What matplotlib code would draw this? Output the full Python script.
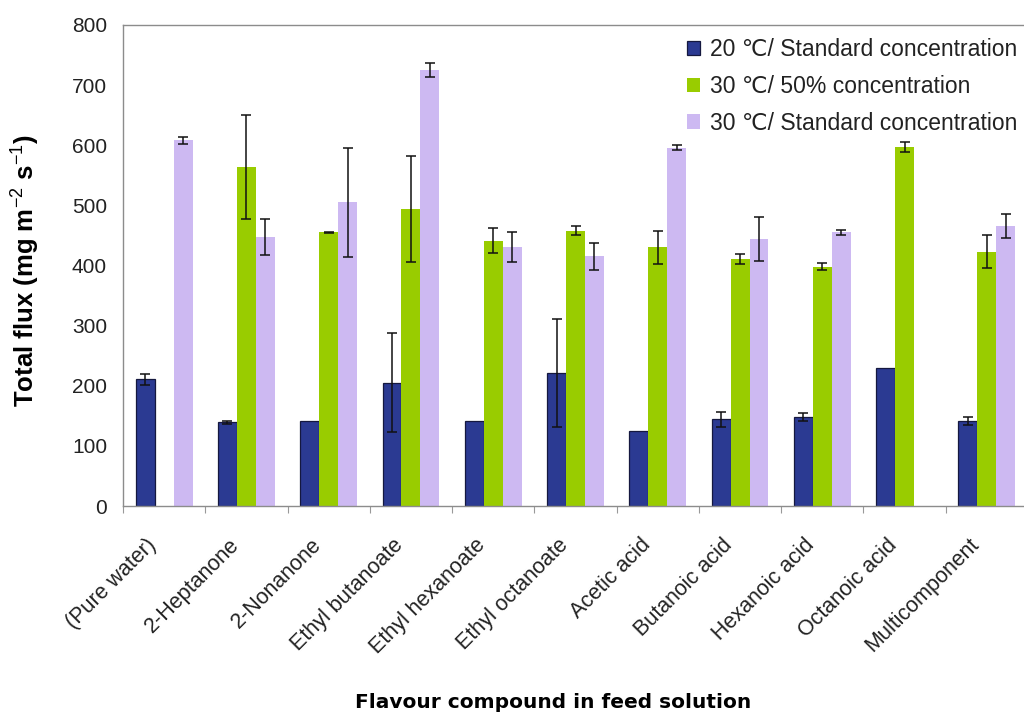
import numpy as np
import matplotlib
matplotlib.use("Agg")
import matplotlib.pyplot as plt
from matplotlib.ticker import FixedLocator
from matplotlib.transforms import ScaledTranslation

plt.rcParams['font.family'] = ['Liberation Sans', 'DejaVu Sans']
plt.rcParams['mathtext.fontset'] = 'custom'
plt.rcParams['mathtext.rm'] = 'Liberation Sans'
plt.rcParams['mathtext.bf'] = 'Liberation Sans:bold'

compounds = ["(Pure water)", "2-Heptanone", "2-Nonanone", "Ethyl butanoate",
             "Ethyl hexanoate", "Ethyl octanoate", "Acetic acid", "Butanoic acid",
             "Hexanoic acid", "Octanoic acid", "Multicomponent"]

series_labels = ["20 \u2103/ Standard concentration",
                 "30 \u2103/ 50% concentration",
                 "30 \u2103/ Standard concentration"]

flux_20_std = [211, 139, 141, 205, 142, 221, 124, 144, 148, 230, 141]
err_20_std = [9, 2, 0, 82, 0, 90, 0, 13, 6, 0, 7]

flux_30_half = [0, 564, 455, 494, 441, 458, 430, 411, 398, 597, 423]
err_30_half = [0, 87, 1, 88, 21, 7, 27, 8, 6, 8, 27]

flux_30_std = [608, 447, 505, 725, 430, 415, 596, 444, 455, 0, 466]
err_30_std = [6, 30, 91, 11, 25, 22, 4, 37, 4, 0, 20]

colors = ["#2B3A92", "#99CC00", "#CDB9F2"]

fig = plt.figure(figsize=(10.24, 7.15), dpi=100)
ax = fig.add_axes([123 / 1024, 1 - 506 / 715, 905 / 1024, 481 / 715])

x = np.arange(len(compounds))
width = 0.23
offsets = [-width, 0.0, width]
values = [flux_20_std, flux_30_half, flux_30_std]
errors = [err_20_std, err_30_half, err_30_std]

for i, (vals, errs) in enumerate(zip(values, errors)):
    edge = "#15183F" if i == 0 else "none"
    ax.bar(x + offsets[i], vals, width, color=colors[i], edgecolor=edge,
           linewidth=0.9 if i == 0 else 0, label=series_labels[i], zorder=2)
    xs = [xi + offsets[i] for xi, v, e in zip(x, vals, errs) if e > 0]
    ys = [v for v, e in zip(vals, errs) if e > 0]
    es = [e for e in errs if e > 0]
    ax.errorbar(xs, ys, yerr=es, fmt="none", ecolor="#111111",
                elinewidth=1.1, capsize=3.3, capthick=1.1, zorder=3)

ax.set_xlim(-0.5, len(compounds) - 0.5)
ax.set_ylim(0, 800)
ax.set_yticks(range(0, 801, 100))
ax.tick_params(axis="y", length=0, labelsize=15, pad=11.5, colors="#222222")

ax.set_xticks(x)
ax.set_xticklabels(compounds, rotation=45, ha="right", va="top",
                   rotation_mode="anchor", fontsize=15.5, color="#222222")
ax.tick_params(axis="x", which="major", length=0, pad=20.5)
shift = ScaledTranslation(-18 / 100, 0, fig.dpi_scale_trans)
for lbl in ax.get_xticklabels():
    lbl.set_transform(lbl.get_transform() + shift)
ax.xaxis.set_minor_locator(FixedLocator(np.arange(-0.5, len(compounds), 1.0)))
ax.tick_params(axis="x", which="minor", length=5, color="#999999", width=0.8)

for side in ["left", "top", "bottom"]:
    ax.spines[side].set_color("#8C8C8C")
    ax.spines[side].set_linewidth(1.0)
ax.spines["right"].set_visible(False)

ax.set_ylabel("Total flux (mg m$^{-2}$ s$^{-1}$)", fontsize=18.5, fontweight="bold")
ax.yaxis.set_label_coords(-0.0905, 0.49)

fig.text(553 / 1024, 1 - 702 / 715, "Flavour compound in feed solution",
         fontsize=14.5, fontweight="bold", family="DejaVu Sans",
         ha="center", va="center")

leg = ax.legend(loc="upper left", bbox_to_anchor=(687 / 1024, 1 - 38 / 715),
                bbox_transform=fig.transFigure, frameon=False,
                fontsize=16.5, handlelength=0.58, handleheight=0.58,
                handletextpad=0.42, labelspacing=0.6, borderaxespad=0,
                borderpad=0)
for t in leg.get_texts():
    t.set_color("#222222")

fig.savefig("out.png", dpi=100)
